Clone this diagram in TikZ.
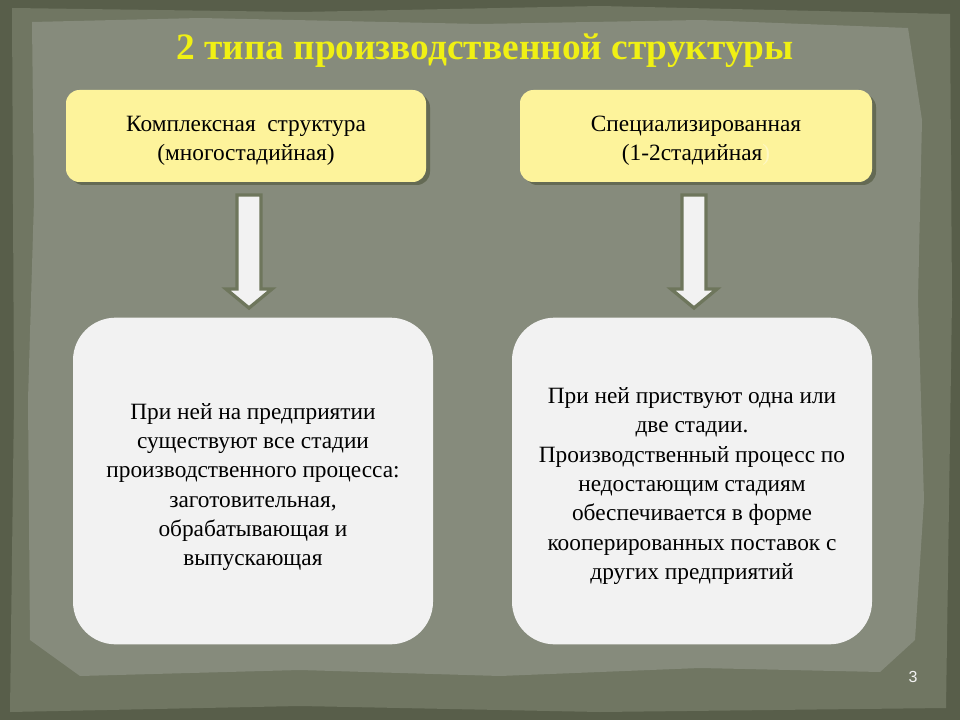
\documentclass[tikz,border=0pt]{standalone}
\usepackage{fontspec}
\setmainfont{Liberation Serif}
\newfontfamily\pagefont{Liberation Sans}
\definecolor{frameDark}{RGB}{88,94,74}
\definecolor{frameMid}{RGB}{112,118,98}
\definecolor{innerBg}{RGB}{134,139,124}
\definecolor{boxYellow}{RGB}{253,243,155}
\definecolor{boxWhite}{RGB}{242,242,242}
\definecolor{shadowCol}{RGB}{100,106,84}
\definecolor{titleYellow}{RGB}{240,240,20}
\definecolor{arrowEdge}{RGB}{110,118,92}
\tikzset{
  topbox/.style={fill=boxYellow, rounded corners=10pt, minimum width=270pt, minimum height=69pt, inner sep=0pt},
  bigbox/.style={fill=boxWhite, rounded corners=32pt, minimum width=270pt, minimum height=245pt, inner sep=0pt},
  boxtext/.style={align=center, font=\fontsize{17.5}{22}\selectfont, inner sep=0pt},
  downarrow/.style={fill=boxWhite, draw=arrowEdge, line width=2.5pt, line join=miter},
  shadow/.style={fill=shadowCol, rounded corners=10pt}
}
\begin{document}
\begin{tikzpicture}[x=0.75pt,y=-0.75pt]
\useasboundingbox (0,0) rectangle (960,720);
% background frame
\fill[frameDark] (0,0) rectangle (960,720);
\fill[frameMid] (12,8) -- (300,12) -- (600,6) -- (950,14) -- (952,300) -- (946,708) -- (600,712) -- (300,706) -- (10,712) -- (14,400) -- cycle;
\fill[innerBg] (32,22) -- (200,18) -- (480,24) -- (700,20) -- (908,28) -- (922,120) -- (918,300) -- (924,500) -- (915,640) -- (880,672) -- (700,668) -- (500,676) -- (300,670) -- (80,676) -- (30,640) -- (28,400) -- (34,200) -- cycle;
% title
\node[font=\fontsize{28}{32}\bfseries\selectfont, text=titleYellow] (title) at (485,51) {2 типа производственной структуры};
% top boxes with shadows
\fill[shadow] (70,94) rectangle (430,185);
\node[topbox] (tl) at (246,136) {};
\node[boxtext] (tlt) at (246,141) {Комплексная \ структура\\(многостадийная)};
\fill[shadow] (524,94) rectangle (876,185);
\node[topbox, minimum width=264pt] (tr) at (696,136) {};
\node[boxtext] (trt) at (696,141) {Специализированная\\(1-2стадийная\textcolor{boxYellow!60!white}{)}};
% bottom boxes
\node[bigbox] (bl) at (253,481) {};
\node[bigbox] (br) at (692,481) {};
\node[boxtext] (blt) at (253,487) {При ней на предприятии\\существуют все стадии\\производственного процесса:\\заготовительная,\\обрабатывающая и\\выпускающая};
\node[boxtext] (brt) at (692,486) {При ней приствуют одна или\\две стадии.\\Производственный процесс по\\недостающим стадиям\\обеспечивается в форме\\кооперированных поставок с\\других предприятий};
% arrows
\coordinate (la) at (249,195);
\coordinate (ra) at (694,195);
\draw[downarrow] (la) ++(-12,0) -- ++(24,0) -- ++(0,94) -- ++(11,0) -- ++(-23,19) -- ++(-23,-19) -- ++(11,0) -- cycle;
\draw[downarrow] (ra) ++(-12,0) -- ++(24,0) -- ++(0,94) -- ++(11,0) -- ++(-23,19) -- ++(-23,-19) -- ++(11,0) -- cycle;
% page number
\node[font=\pagefont\fontsize{12}{14}\selectfont, text=boxWhite] (pg) at (913,677) {3};
\end{tikzpicture}
\end{document}
